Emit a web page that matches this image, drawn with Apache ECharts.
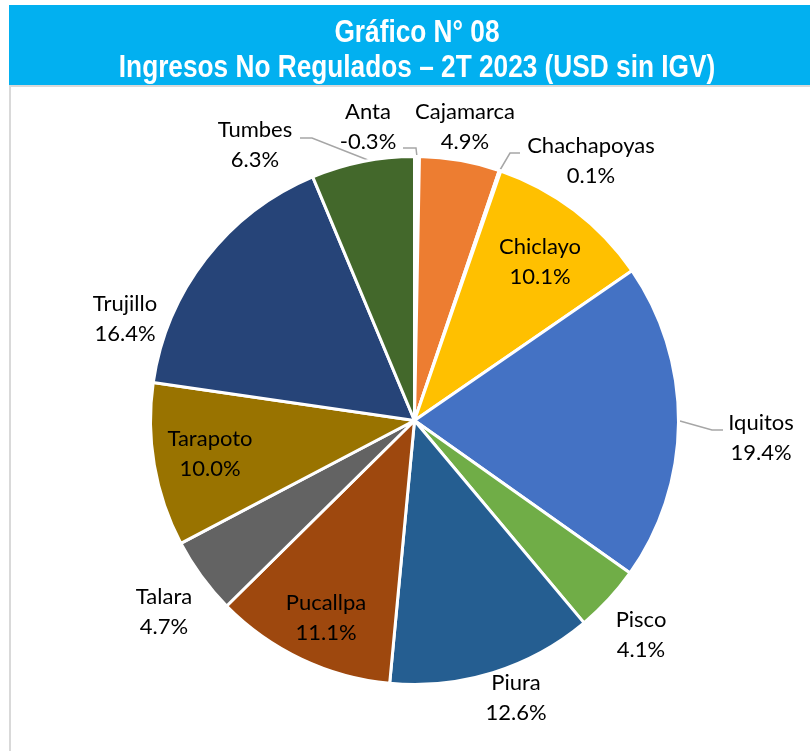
<!DOCTYPE html>
<html>
<head>
<meta charset="utf-8">
<script src="https://cdn.jsdelivr.net/npm/echarts@6/dist/echarts.min.js"></script>
<style>
html,body{margin:0;padding:0;background:#fff;}
#chart{width:810px;height:751px;}
</style>
</head>
<body>
<div id="chart"></div>
<script>
const titleLine1 = 'Gráfico N° 08';
const titleLine2 = 'Ingresos No Regulados \u2013 2T 2023 (USD sin IGV)';
const categories = ['Anta','Cajamarca','Chachapoyas','Chiclayo','Iquitos','Pisco','Piura','Pucallpa','Talara','Tarapoto','Trujillo','Tumbes'];
const shares = [-0.3, 4.9, 0.1, 10.1, 19.4, 4.1, 12.6, 11.1, 4.7, 10.0, 16.4, 6.3];
const sliceColors = ['#FFFFFF','#ED7D31','#FFFFFF','#FFC000','#4472C4','#70AD47','#255E91','#9E480E','#636363','#997300','#264478','#43682B'];
// label centres (text placement) and leader lines
const labelPos = [[368,127],[465,127],[591,161],[540,262],[761,438],[641,635],[516,698],[326,618],[164,612],[210,454],[125,319],[255,145]];
const leaderLines = {
  0: [[417,157],[416,148],[403,148]],
  2: [[500,170],[510,153],[520,153]],
  4: [[680,421],[712,430],[723,430]],
  11: [[373,162],[312,138],[300,138]]
};

const chart = echarts.init(document.getElementById('chart'), null, {renderer:'canvas'});
const data = categories.map((c, i) => ({
  name: c,
  value: Math.abs(shares[i]),
  itemStyle: {color: sliceColors[i]},
  labelLine: {show: !!leaderLines[i]}
}));

const titleFont = "bold 32px 'Liberation Sans', Arial, sans-serif";

chart.setOption({
  animation: false,
  backgroundColor: '#ffffff',
  graphic: [
    {type:'rect', shape:{x:9, y:5, width:801, height:80}, style:{fill:'#02B0F0'}, z:0},
    {type:'rect', shape:{x:9, y:85, width:801, height:2}, style:{fill:'#D9D9D9'}, z:0},
    {type:'rect', shape:{x:9, y:85, width:2, height:666}, style:{fill:'#D9D9D9'}, z:0},
    {type:'text', x:417, y:33, scaleX:0.82, style:{text:titleLine1, fill:'#ffffff', align:'center', verticalAlign:'middle', font:titleFont}, z:5},
    {type:'text', x:417, y:68, scaleX:0.82, style:{text:titleLine2, fill:'#ffffff', align:'center', verticalAlign:'middle', font:titleFont}, z:5}
  ],
  series: [{
    type: 'pie',
    center: [414.5, 420.5],
    radius: 264,
    startAngle: 90,
    clockwise: true,
    avoidLabelOverlap: false,
    minAngle: 0,
    data: data,
    itemStyle: {borderColor:'#ffffff', borderWidth:3},
    emphasis: {disabled:true},
    label: {
      show: true,
      position: 'outside',
      formatter: p => p.name + '\n' + shares[p.dataIndex].toFixed(1) + '%',
      fontFamily: 'Lato, "Open Sans", sans-serif',
      fontSize: 22,
      lineHeight: 30,
      color: '#000000',
      align: 'center'
    },
    labelLine: {lineStyle:{color:'#A6A6A6', width:1.5}, smooth:false},
    labelLayout: function (params) {
      const i = params.dataIndex;
      const pos = labelPos[i];
      const out = {x: pos[0], y: pos[1], align:'center', verticalAlign:'middle', hideOverlap:false, moveOverlap:null};
      if (leaderLines[i]) out.labelLinePoints = leaderLines[i];
      return out;
    }
  }]
});
</script>
</body>
</html>
